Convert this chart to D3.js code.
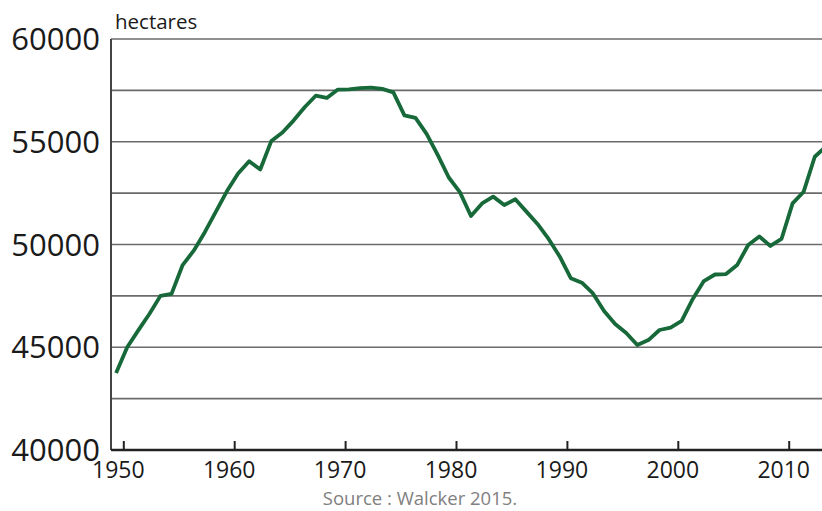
<!DOCTYPE html>
<html>
<head>
<meta charset="utf-8">
<script src="https://cdn.jsdelivr.net/npm/d3@7/dist/d3.min.js"></script>
<style>
  body { margin: 0; background: #fff; }
  text { font-family: "Open Sans", "DejaVu Sans", sans-serif; }
  .grid line { stroke: #6b6b6b; stroke-width: 1.6; }
  .line { fill: none; stroke: #17693a; stroke-width: 3.8; stroke-linejoin: round; }
</style>
</head>
<body>
<svg id="forest_chart" width="822" height="511"></svg>
<script>

// years and hectares
var years = [1949, 1950, 1951, 1952, 1953, 1954, 1955, 1956, 1957, 1958,
             1959, 1960, 1961, 1962, 1963, 1964, 1965, 1966, 1967, 1968,
             1969, 1970, 1971, 1972, 1973, 1974, 1975, 1976, 1977, 1978,
             1979, 1980, 1981, 1982, 1983, 1984, 1985, 1986, 1987, 1988,
             1989, 1990, 1991, 1992, 1993, 1994, 1995, 1996, 1997, 1998,
             1999, 2000, 2001, 2002, 2003, 2004, 2005, 2006, 2007, 2008,
             2009, 2010, 2011, 2012, 2013];

var hectares = [43750, 45000, 45820, 46620, 47500, 47600, 49000, 49700, 50600, 51600,
                52600, 53450, 54050, 53650, 55040, 55450, 56030, 56680, 57240, 57130,
                57540, 57550, 57610, 57630, 57570, 57400, 56280, 56160, 55380, 54360,
                53260, 52550, 51390, 52000, 52330, 51920, 52200, 51600, 51000, 50270,
                49420, 48360, 48140, 47620, 46760, 46130, 45690, 45110, 45350, 45840,
                45960, 46280, 47350, 48220, 48540, 48560, 49000, 49975, 50390, 49930,
                50270, 52000, 52570, 54270, 54760];

var x_ticks = [1950, 1960, 1970, 1980, 1990, 2000, 2010];
var y_labels = [40000, 45000, 50000, 55000, 60000];
var y_grid = [42500, 45000, 47500, 50000, 52500, 55000, 57500, 60000];

var unit_label = "hectares";
var source_label = "Source : Walcker 2015.";

var arr_data = years.map(function(d, i) { return {year: d, total: hectares[i]}; });

// plot area
var left = 111, top_y = 39, bottom = 450, right = 822;

var svg = d3.select("#forest_chart");

var x = d3.scaleLinear().domain([1950, 2010]).range([123.3, 788.7]);
var y = d3.scaleLinear().domain([40000, 60000]).range([bottom, top_y]);

// horizontal grid lines
svg.append("g")
    .attr("class", "grid")
    .selectAll("line")
    .data(y_grid)
    .enter().append("line")
    .attr("x1", left)
    .attr("x2", right)
    .attr("y1", function(d) { return y(d); })
    .attr("y2", function(d) { return y(d); });

// y axis line
svg.append("line")
    .attr("x1", left).attr("x2", left)
    .attr("y1", top_y).attr("y2", bottom)
    .attr("stroke", "#444")
    .attr("stroke-width", 2);

// y labels
svg.append("g")
    .selectAll("text")
    .data(y_labels)
    .enter().append("text")
    .attr("x", 100)
    .attr("y", function(d) { return y(d) + 11; })
    .attr("text-anchor", "end")
    .attr("font-size", 31)
    .attr("fill", "#1a1a1a")
    .text(function(d) { return d; });

// the line, points sit a bit past the year tick
var valueline = d3.line()
    .x(function(d) { return x(d.year + 0.35); })
    .y(function(d) { return y(d.total); });

svg.append("path")
    .datum(arr_data)
    .attr("class", "line")
    .attr("d", valueline);

// x axis here
var xAxis = d3.axisBottom(x)
    .tickValues(x_ticks)
    .tickFormat(d3.format("d"))
    .tickSizeInner(-9)
    .tickSizeOuter(0)
    .tickPadding(12);

var gx = svg.append("g")
    .attr("class", "axis axis--x")
    .attr("transform", "translate(0," + bottom + ")")
    .call(xAxis);

gx.select(".domain").remove();
gx.selectAll(".tick line").attr("stroke", "#222").attr("stroke-width", 2);
gx.selectAll(".tick text")
    .attr("x", -5.5)
    .attr("font-size", 23)
    .attr("fill", "#1a1a1a")
    .style("font-family", "'Open Sans', 'DejaVu Sans', sans-serif");

svg.append("line")
    .attr("x1", left).attr("x2", right)
    .attr("y1", bottom).attr("y2", bottom)
    .attr("stroke", "#222")
    .attr("stroke-width", 2.4);

// unit and source
svg.append("text")
    .attr("x", 115)
    .attr("y", 29)
    .attr("font-size", 20.5)
    .attr("fill", "#1a1a1a")
    .text(unit_label);

svg.append("text")
    .attr("x", 420)
    .attr("y", 505)
    .attr("text-anchor", "middle")
    .attr("font-size", 18.5)
    .attr("fill", "#808080")
    .text(source_label);

</script>
</body>
</html>
